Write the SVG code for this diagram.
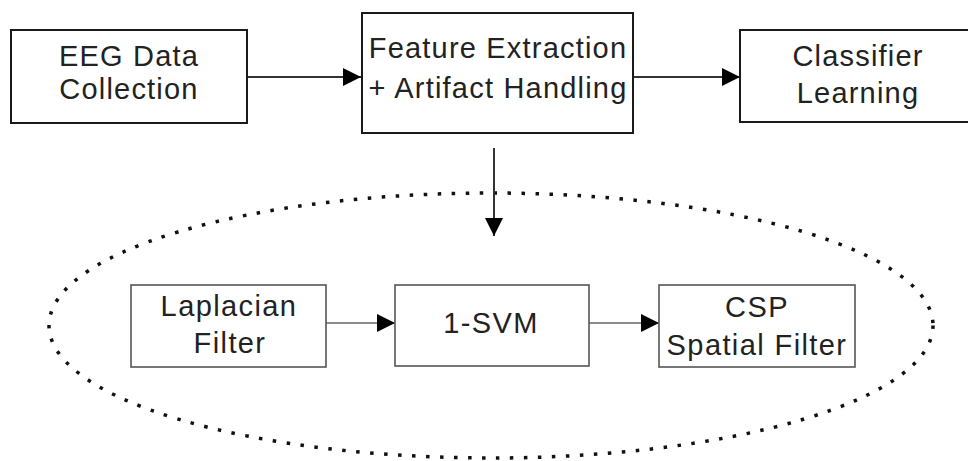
<svg xmlns="http://www.w3.org/2000/svg" width="968" height="461" viewBox="0 0 968 461">
<style>
.box{fill:#fff;stroke:#1a1a1a;stroke-width:2}
.sbox{fill:#fff;stroke:#555;stroke-width:1.6}
.t{font-family:"Liberation Sans",Arial,sans-serif;font-size:29px;fill:#222;text-anchor:middle;letter-spacing:1.2px}
.st{font-family:"Liberation Sans",Arial,sans-serif;font-size:29px;fill:#222;text-anchor:middle;letter-spacing:1.4px}
.c{stroke:#333;stroke-width:2;fill:none}
.sc{stroke:#666;stroke-width:1.6;fill:none}
</style>
<defs>
<marker id="ah" viewBox="0 0 18 18" refX="18" refY="9" markerWidth="18" markerHeight="18" markerUnits="userSpaceOnUse" orient="auto">
<path d="M0,0 L18,9 L0,18 Z" fill="#000"/>
</marker>
</defs>
<rect width="968" height="461" fill="#fff"/>
<ellipse id="group-ellipse" cx="491" cy="325.5" rx="442" ry="132.5" fill="none" stroke="#111" stroke-width="3.5" stroke-dasharray="3.5 10.5"/>
<g id="connectors">
<line class="c" x1="247" y1="77" x2="361" y2="77" marker-end="url(#ah)"/>
<line class="c" x1="633" y1="77" x2="740" y2="77" marker-end="url(#ah)"/>
<line class="c" x1="494" y1="148" x2="494" y2="236" marker-end="url(#ah)"/>
<line class="sc" x1="326" y1="323" x2="395" y2="323" marker-end="url(#ah)"/>
<line class="sc" x1="589" y1="323" x2="659" y2="323" marker-end="url(#ah)"/>
</g>
<g id="eeg">
<rect class="box" x="11" y="30" width="236" height="93"/>
<text class="t" x="129" y="66">EEG Data</text>
<text class="t" x="129" y="99">Collection</text>
</g>
<g id="feature">
<rect class="box" x="362" y="13" width="271" height="120"/>
<text class="t" x="498" y="58">Feature Extraction</text>
<text class="t" x="498" y="98">+ Artifact Handling</text>
</g>
<g id="classifier">
<rect class="box" x="740" y="30" width="236" height="92"/>
<text class="t" x="858" y="66">Classifier</text>
<text class="t" x="858" y="103">Learning</text>
</g>
<g id="laplacian">
<rect class="sbox" x="131" y="285" width="195" height="82"/>
<text class="st" x="229" y="316">Laplacian</text>
<text class="st" x="230" y="353">Filter</text>
</g>
<g id="svm">
<rect class="sbox" x="395" y="285" width="194" height="81"/>
<text class="st" x="491" y="333">1-SVM</text>
</g>
<g id="csp">
<rect class="sbox" x="659" y="285" width="196" height="82"/>
<text class="st" x="757" y="317">CSP</text>
<text class="st" x="757" y="355">Spatial Filter</text>
</g>
</svg>
